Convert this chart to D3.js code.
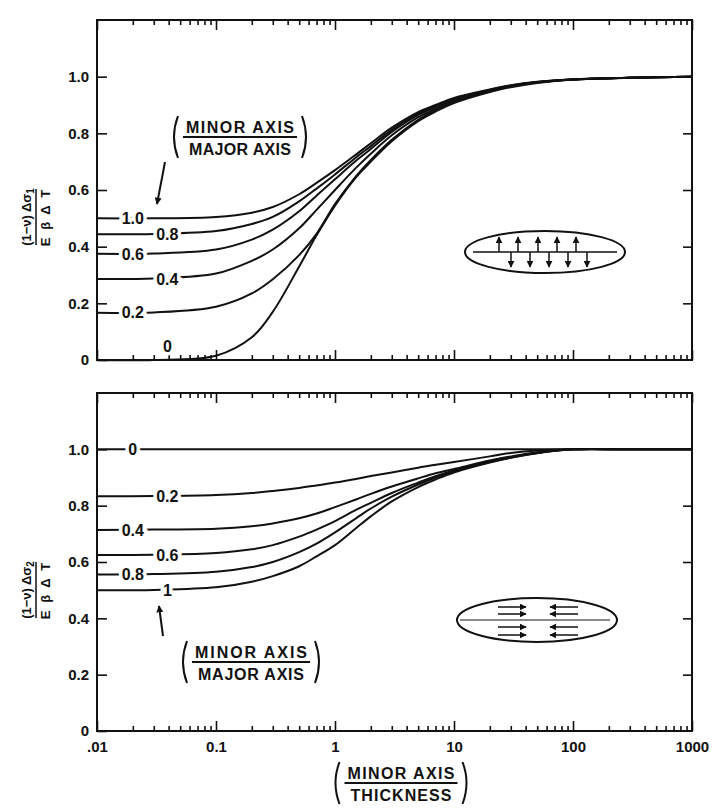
<!DOCTYPE html>
<html>
<head>
<meta charset="utf-8">
<script src="https://cdn.jsdelivr.net/npm/d3@7"></script>
<style>
  body { margin: 0; background: #fff; }
  svg { display: block; font-family: "Liberation Sans", Arial, sans-serif; font-weight: bold; }
  .tick text { font-size: 15px; fill: #111; }
  .tick line { stroke: #111; stroke-width: 1.6; }
  .domain { display: none; }
</style>
</head>
<body>
<svg id="chart" width="715" height="810"></svg>
<script>
const xs = [0.01, 0.03, 0.1, 0.2, 0.3, 0.5, 0.7, 1, 1.5, 2, 3, 5, 7, 10, 20, 30, 50, 100, 300, 1000]

const xTicks = [0.01, 0.1, 1, 10, 100, 1000]
const xTickLabels = ['.01', '0.1', '1', '10', '100', '1000']
const yTicks = [0, 0.2, 0.4, 0.6, 0.8, 1.0]
const yTickLabels = ['0', '0.2', '0.4', '0.6', '0.8', '1.0']

// upper panel: (1-v) d(sigma1) / (E beta dT)
const topRatios = ['1.0', '0.8', '0.6', '0.4', '0.2', '0']
const top10 = [0.5, 0.5, 0.505, 0.52, 0.54, 0.585, 0.625, 0.67, 0.725, 0.765, 0.82, 0.875, 0.9, 0.925, 0.955, 0.97, 0.982, 0.99, 0.996, 1.0]
const top08 = [0.444, 0.445, 0.455, 0.48, 0.505, 0.56, 0.605, 0.655, 0.715, 0.755, 0.812, 0.87, 0.897, 0.922, 0.953, 0.968, 0.981, 0.99, 0.996, 1.0]
const top06 = [0.375, 0.376, 0.39, 0.425, 0.46, 0.525, 0.58, 0.638, 0.703, 0.745, 0.805, 0.865, 0.893, 0.919, 0.951, 0.967, 0.98, 0.99, 0.996, 1.0]
const top04 = [0.286, 0.288, 0.305, 0.35, 0.39, 0.465, 0.53, 0.6, 0.678, 0.728, 0.793, 0.857, 0.887, 0.915, 0.95, 0.966, 0.98, 0.99, 0.996, 1.0]
const top02 = [0.167, 0.168, 0.188, 0.235, 0.285, 0.37, 0.445, 0.55, 0.648, 0.706, 0.777, 0.848, 0.882, 0.911, 0.948, 0.965, 0.979, 0.99, 0.996, 1.0]
const top00 = [0, 0, 0.015, 0.08, 0.17, 0.33, 0.44, 0.545, 0.645, 0.7, 0.772, 0.843, 0.877, 0.907, 0.946, 0.963, 0.978, 0.99, 0.996, 1.0]

// lower panel: (1-v) d(sigma2) / (E beta dT)
const bottomRatios = ['0', '0.2', '0.4', '0.6', '0.8', '1']
const bot00 = [1, 1, 1, 1, 1, 1, 1, 1, 1, 1, 1, 1, 1, 1, 1, 1, 1, 1, 1, 1]
const bot02 = [0.833, 0.834, 0.838, 0.845, 0.852, 0.863, 0.872, 0.882, 0.895, 0.905, 0.918, 0.935, 0.945, 0.955, 0.975, 0.987, 0.996, 1, 1, 1]
const bot04 = [0.714, 0.715, 0.718, 0.727, 0.737, 0.755, 0.772, 0.795, 0.822, 0.842, 0.868, 0.897, 0.915, 0.93, 0.96, 0.975, 0.99, 1, 1, 1]
const bot06 = [0.625, 0.626, 0.632, 0.645, 0.66, 0.69, 0.715, 0.745, 0.785, 0.81, 0.845, 0.882, 0.905, 0.925, 0.957, 0.972, 0.988, 1, 1, 1]
const bot08 = [0.556, 0.557, 0.565, 0.582, 0.6, 0.635, 0.665, 0.705, 0.755, 0.79, 0.832, 0.875, 0.9, 0.922, 0.955, 0.971, 0.987, 1, 1, 1]
const bot10 = [0.5, 0.501, 0.51, 0.53, 0.55, 0.585, 0.62, 0.66, 0.72, 0.762, 0.815, 0.866, 0.893, 0.918, 0.953, 0.97, 0.986, 1, 1, 1]

const topSeries = [top10, top08, top06, top04, top02, top00]
const bottomSeries = [bot00, bot02, bot04, bot06, bot08, bot10]

const ink = '#111'
const svg = d3.select('#chart')

svg.append('defs').append('marker')
  .attr('id', 'head')
  .attr('viewBox', '0 0 10 10')
  .attr('refX', 9).attr('refY', 5)
  .attr('markerWidth', 7).attr('markerHeight', 7)
  .attr('markerUnits', 'userSpaceOnUse')
  .attr('orient', 'auto')
  .append('path')
  .attr('d', 'M0,0 L10,5 L0,10 Z')
  .attr('fill', ink)

const x = d3.scaleLog().domain([0.01, 1000]).range([97, 692])

// minor ticks 2..9 in each decade
const minorTicks = []
xTicks.slice(0, -1).forEach(d => {
  for (let k = 2; k < 10; k++) minorTicks.push(d * k)
})

function drawPanel (y0, y1, series, ratios, labelSpots, withXLabels) {
  const y = d3.scaleLinear().domain([0, 1.2]).range([y1, y0])
  const g = svg.append('g')

  // axes, ticks pointing inward
  g.append('g').attr('transform', `translate(${x.range()[0]},0)`)
    .call(d3.axisLeft(y).tickValues(yTicks).tickSize(-10).tickPadding(8)
      .tickFormat((d, i) => yTickLabels[i]))
  g.append('g').attr('transform', `translate(${x.range()[1]},0)`)
    .call(d3.axisRight(y).tickValues(yTicks.slice(1, -1)).tickSize(-9).tickFormat(''))

  g.append('g').attr('transform', `translate(0,${y1})`)
    .call(d3.axisBottom(x).tickValues(xTicks).tickSize(-10).tickPadding(10)
      .tickFormat((d, i) => withXLabels ? xTickLabels[i] : ''))
  g.append('g').attr('transform', `translate(0,${y1})`)
    .call(d3.axisBottom(x).tickValues(minorTicks).tickSize(-5).tickFormat(''))
  g.append('g').attr('transform', `translate(0,${y0})`)
    .call(d3.axisTop(x).tickValues(xTicks).tickSize(-10).tickFormat(''))
  g.append('g').attr('transform', `translate(0,${y0})`)
    .call(d3.axisTop(x).tickValues(minorTicks).tickSize(-5).tickFormat(''))

  const line = d3.line()
    .x((d, i) => x(xs[i]))
    .y(d => y(d))
    .curve(d3.curveCatmullRom.alpha(0.5))

  g.selectAll('path.curve')
    .data(series)
    .join('path')
    .attr('class', 'curve')
    .attr('d', line)
    .attr('fill', 'none')
    .attr('stroke', ink)
    .attr('stroke-width', 2)

  // frame
  g.append('rect')
    .attr('x', x.range()[0]).attr('y', y0)
    .attr('width', x.range()[1] - x.range()[0]).attr('height', y1 - y0)
    .attr('fill', 'none').attr('stroke', ink).attr('stroke-width', 2)

  // inline curve labels
  g.selectAll('text.ratio')
    .data(ratios)
    .join('text')
    .attr('class', 'ratio')
    .attr('x', (d, i) => x(labelSpots[i][0]))
    .attr('y', (d, i) => y(labelSpots[i][1] === null ? series[i][0] : labelSpots[i][1]))
    .attr('dy', '0.36em')
    .attr('text-anchor', 'middle')
    .attr('font-size', 16)
    .attr('fill', ink)
    .attr('stroke', '#fff').attr('stroke-width', 7)
    .attr('paint-order', 'stroke')
    .text(d => d)

  return { g, y }
}

drawPanel(20, 360, topSeries, topRatios,
  [[0.02, null], [0.039, null], [0.02, null], [0.039, null], [0.02, null], [0.039, 0.05]], false)
drawPanel(393, 731, bottomSeries, bottomRatios,
  [[0.02, null], [0.039, null], [0.02, null], [0.039, null], [0.02, null], [0.039, null]], true)

// fraction annotation with parentheses
function fraction (cx, lineY, w, upper, lower) {
  const g = svg.append('g').attr('fill', ink)
  g.append('text').attr('x', cx).attr('y', lineY - 4).attr('text-anchor', 'middle')
    .attr('font-size', 16).attr('textLength', w - 6).attr('lengthAdjust', 'spacing').text(upper)
  g.append('text').attr('x', cx).attr('y', lineY + 18).attr('text-anchor', 'middle')
    .attr('font-size', 16).attr('textLength', w - 12).attr('lengthAdjust', 'spacing').text(lower)
  g.append('line').attr('x1', cx - w / 2).attr('x2', cx + w / 2)
    .attr('y1', lineY).attr('y2', lineY).attr('stroke', ink).attr('stroke-width', 1.8)
  const paren = (px, dir) => `M${px},${lineY - 21} Q${px - dir * 8},${lineY} ${px},${lineY + 21}`
  g.append('path').attr('d', paren(cx - w / 2 - 5, 1)).attr('fill', 'none').attr('stroke', ink).attr('stroke-width', 2)
  g.append('path').attr('d', paren(cx + w / 2 + 5, -1)).attr('fill', 'none').attr('stroke', ink).attr('stroke-width', 2)
}

fraction(240, 137, 114, 'MINOR AXIS', 'MAJOR AXIS')
fraction(251, 662, 118, 'MINOR AXIS', 'MAJOR AXIS')
fraction(401, 783, 113, 'MINOR AXIS', 'THICKNESS')

// pointer arrows toward the r = 1 curves
svg.append('line').attr('x1', 165).attr('y1', 162).attr('x2', 157).attr('y2', 204)
  .attr('stroke', ink).attr('stroke-width', 2).attr('marker-end', 'url(#head)')
svg.append('line').attr('x1', 163).attr('y1', 636).attr('x2', 159).attr('y2', 606)
  .attr('stroke', ink).attr('stroke-width', 2).attr('marker-end', 'url(#head)')

// rotated y labels
function yLabel (cy, sub) {
  const g = svg.append('g').attr('transform', `translate(36,${cy}) rotate(-90)`).attr('fill', ink)
  const num = g.append('text').attr('x', 0).attr('y', -5).attr('text-anchor', 'middle').attr('font-size', 13)
  num.append('tspan').text('(1\u2212\u03bd) \u0394\u03c3')
  num.append('tspan').attr('font-size', 10).attr('dy', 3).text(sub)
  g.append('line').attr('x1', -28).attr('x2', 28).attr('y1', 0).attr('y2', 0)
    .attr('stroke', ink).attr('stroke-width', 1.5)
  g.append('text').attr('x', 0).attr('y', 14).attr('text-anchor', 'middle').attr('font-size', 13)
    .attr('letter-spacing', 2).text('E \u03b2 \u0394 T')
}
yLabel(217, '1')
yLabel(590, '2')

// inset ellipses with stress arrows
function arrow (x1, y1, x2, y2) {
  svg.append('line').attr('x1', x1).attr('y1', y1).attr('x2', x2).attr('y2', y2)
    .attr('stroke', ink).attr('stroke-width', 1.5).attr('marker-end', 'url(#head)')
}

svg.append('ellipse').attr('cx', 545).attr('cy', 252).attr('rx', 80).attr('ry', 21)
  .attr('fill', 'none').attr('stroke', ink).attr('stroke-width', 2)
svg.append('line').attr('x1', 473).attr('x2', 617).attr('y1', 252).attr('y2', 252)
  .attr('stroke', ink).attr('stroke-width', 1.5)
;[499, 518, 538, 557, 576].forEach(px => arrow(px, 252, px, 237))
;[511, 530, 549, 568, 587].forEach(px => arrow(px, 252, px, 267))

svg.append('ellipse').attr('cx', 537).attr('cy', 620).attr('rx', 80).attr('ry', 22)
  .attr('fill', 'none').attr('stroke', ink).attr('stroke-width', 2)
svg.append('line').attr('x1', 460).attr('x2', 610).attr('y1', 620).attr('y2', 620)
  .attr('stroke', ink).attr('stroke-width', 1)
;[607, 614, 627, 635].forEach(py => {
  arrow(498, py, 526, py)
  arrow(578, py, 550, py)
})
</script>
</body>
</html>
